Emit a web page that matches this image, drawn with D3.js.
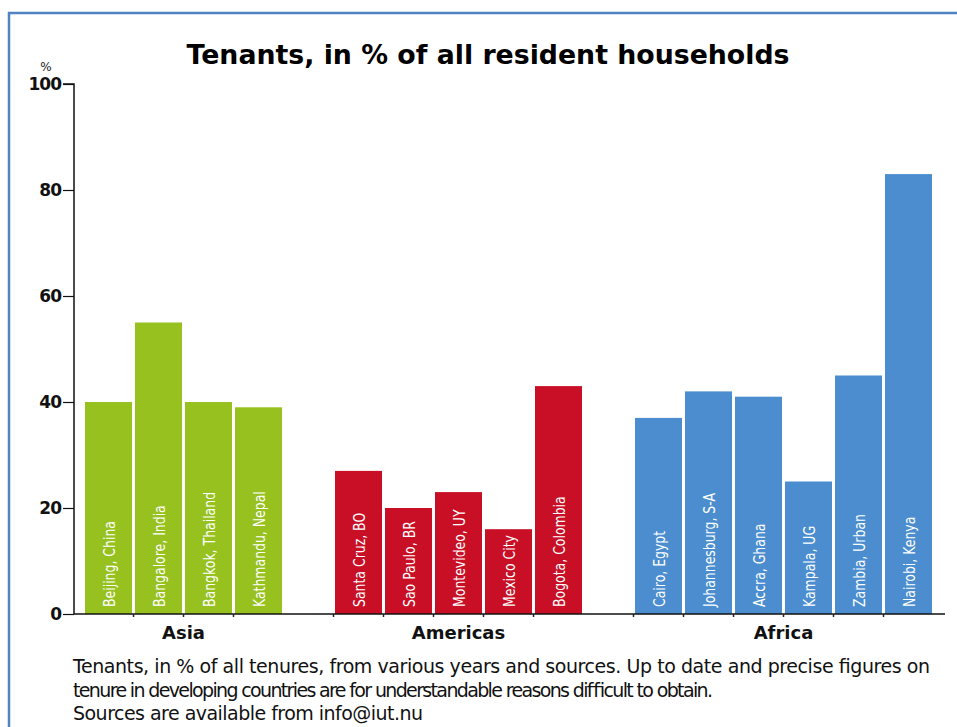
<!DOCTYPE html>
<html>
<head>
<meta charset="utf-8">
<script src="https://cdn.jsdelivr.net/npm/d3@7"></script>
<style>
  body { margin: 0; background: #fff; }
  svg { display: block; }
</style>
</head>
<body>
<svg class="chart"></svg>
<script>

var width = 957,
    height = 727;

// data
var regions = ["Asia", "Americas", "Africa"];
var asiaCities = ["Beijing, China", "Bangalore, India", "Bangkok, Thailand", "Kathmandu, Nepal"];
var asiaValues = [40, 55, 40, 39];
var americasCities = ["Santa Cruz, BO", "Sao Paulo, BR", "Montevideo, UY", "Mexico City", "Bogota, Colombia"];
var americasValues = [27, 20, 23, 16, 43];
var africaCities = ["Cairo, Egypt", "Johannesburg, S-A", "Accra, Ghana", "Kampala, UG", "Zambia, Urban", "Nairobi, Kenya"];
var africaValues = [37, 42, 41, 25, 45, 83];
var yTicks = [0, 20, 40, 60, 80, 100];
var regionColors = ["#96c11f", "#c80f25", "#4b8dce"];

var title = "Tenants, in % of all resident households";
var notes = [
  "Tenants, in % of all tenures, from various years and sources. Up to date and precise figures on",
  "tenure in developing countries are for understandable reasons difficult to obtain.",
  "Sources are available from info@iut.nu"
];
var noteWidths = [857, 640, 350];   // how wide each footnote line runs

// build rows, with an empty slot between regions
var groups = [
  {name: regions[0], cities: asiaCities, values: asiaValues, color: regionColors[0]},
  {name: regions[1], cities: americasCities, values: americasValues, color: regionColors[1]},
  {name: regions[2], cities: africaCities, values: africaValues, color: regionColors[2]}
];
var rows = [], slots = [];
groups.forEach(function(g, gi) {
  if (gi > 0) slots.push("gap" + gi);
  g.cities.forEach(function(c, i) {
    rows.push({city: c, value: g.values[i], color: g.color, region: g.name});
    slots.push(c);
  });
});

var x = d3.scaleBand()
    .domain(slots)
    .range([85, 932])
    .paddingInner(0.06)
    .paddingOuter(0);

var y = d3.scaleLinear()
    .domain([0, 100])
    .range([614, 84]);

var chart = d3.select(".chart")
    .attr("width", width)
    .attr("height", height);

// frame
chart.append("path")
    .attr("d", "M9," + height + "V13H" + width)
    .attr("fill", "none")
    .attr("stroke", "#4f84c4")
    .attr("stroke-width", 2.5);

chart.append("text")
    .attr("x", 488)
    .attr("y", 64)
    .attr("text-anchor", "middle")
    .attr("font-family", "'DejaVu Sans', sans-serif")
    .attr("font-weight", "bold")
    .attr("font-size", 26)
    .attr("textLength", 603)
    .attr("lengthAdjust", "spacingAndGlyphs")
    .text(title);

// bars
var bar = chart.selectAll("g.bar")
    .data(rows)
  .enter().append("g")
    .attr("class", "bar")
    .attr("transform", function(d) { return "translate(" + x(d.city) + ",0)"; });

bar.append("rect")
    .attr("y", function(d) { return y(d.value); })
    .attr("height", function(d) { return y(0) - y(d.value); })
    .attr("width", x.bandwidth())
    .attr("fill", function(d) { return d.color; });

// narrow, tall labels: squeeze along the text direction
bar.append("text")
    .attr("transform", "translate(" + (x.bandwidth() / 2 + 6) + "," + (y(0) - 7) + ") rotate(-90) scale(0.78,1)")
    .attr("fill", "#fff")
    .attr("font-family", "'DejaVu Sans', sans-serif")
    .attr("font-size", 16)
    .text(function(d) { return d.city; });

// y axis
var yAxis = d3.axisLeft(y)
    .tickValues(yTicks)
    .tickSize(11)
    .tickPadding(2);

var ya = chart.append("g")
    .attr("transform", "translate(74,0)")
    .call(yAxis);
ya.select(".domain").attr("stroke", "#111").attr("stroke-width", 1.5).attr("d", "M-11," + y(100) + "H0V" + y(0));
ya.selectAll(".tick line").attr("stroke", "#111").attr("stroke-width", 1.2);
ya.selectAll(".tick text")
    .attr("fill", "#111")
    .attr("font-family", "'DejaVu Sans', sans-serif")
    .attr("font-weight", "bold")
    .attr("font-size", 17)
    .attr("dy", "0.35em")
    .style("letter-spacing", "-1px");

chart.append("text")
    .attr("x", 46)
    .attr("y", 71)
    .attr("text-anchor", "middle")
    .attr("font-family", "'DejaVu Sans', sans-serif")
    .attr("font-size", 12)
    .attr("fill", "#222")
    .text("%");

// baseline with small ticks between bars
chart.append("line")
    .attr("x1", 74).attr("x2", 945)
    .attr("y1", y(0)).attr("y2", y(0))
    .attr("stroke", "#111")
    .attr("stroke-width", 1.5);

chart.selectAll("line.gtick")
    .data(rows.slice(1))
  .enter().append("line")
    .attr("class", "gtick")
    .attr("x1", function(d) { return x(d.city) - x.step() * 0.03; })
    .attr("x2", function(d) { return x(d.city) - x.step() * 0.03; })
    .attr("y1", y(0)).attr("y2", y(0) + 3)
    .attr("stroke", "#222")
    .attr("stroke-width", 1.5);

// region labels
chart.selectAll("text.region")
    .data(groups)
  .enter().append("text")
    .attr("class", "region")
    .attr("x", function(g) {
      var a = x(g.cities[0]), b = x(g.cities[g.cities.length - 1]) + x.bandwidth();
      return (a + b) / 2;
    })
    .attr("y", 639)
    .attr("text-anchor", "middle")
    .attr("font-family", "'DejaVu Sans', sans-serif")
    .attr("font-weight", "bold")
    .attr("font-size", 18)
    .attr("fill", "#111")
    .text(function(g) { return g.name; });

// footnote
chart.selectAll("text.note")
    .data(notes)
  .enter().append("text")
    .attr("class", "note")
    .attr("x", 73)
    .attr("y", function(d, i) { return 673 + i * 23.5; })
    .attr("font-family", "'DejaVu Sans', sans-serif")
    .attr("font-size", 19)
    .attr("textLength", function(d, i) { return noteWidths[i]; })
    .attr("lengthAdjust", "spacing")
    .attr("fill", "#111")
    .text(function(d) { return d; });

</script>
</body>
</html>
